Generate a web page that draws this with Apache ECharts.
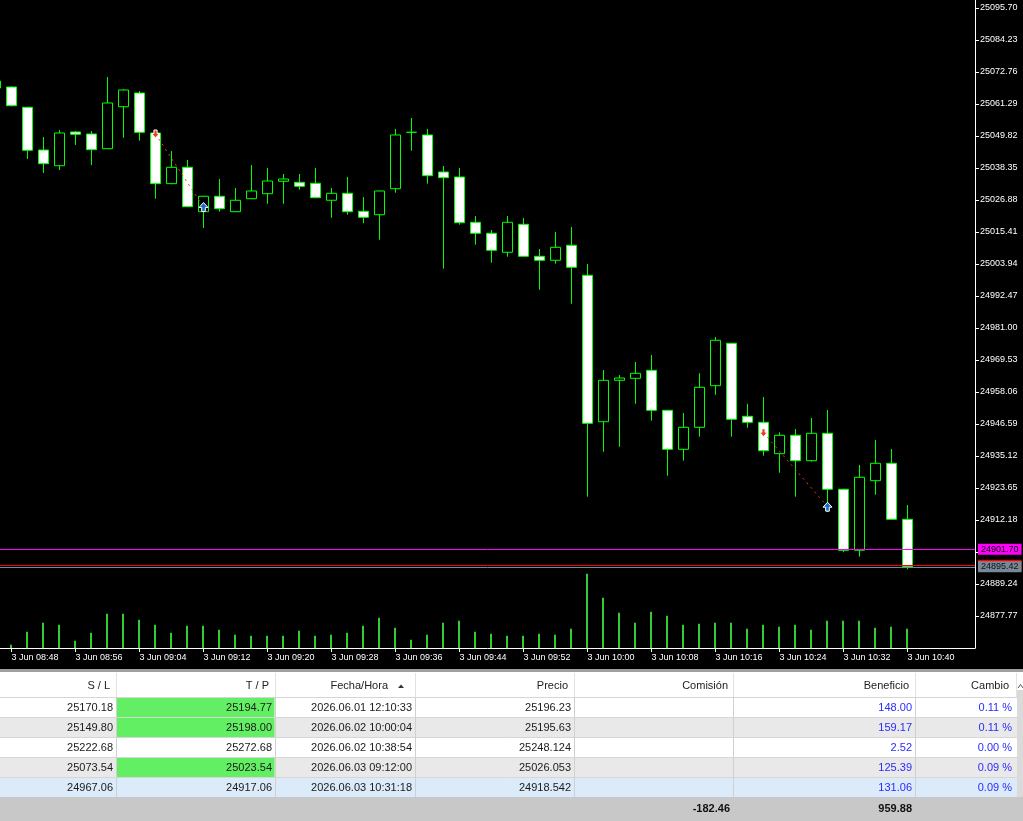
<!DOCTYPE html>
<html><head><meta charset="utf-8">
<script src="https://cdn.jsdelivr.net/npm/echarts@6/dist/echarts.min.js"></script>
<style>html,body{margin:0;padding:0;background:#000;}#c{width:1023px;height:821px;}</style>
</head><body><div id="c"></div><script>
// ---- chart data (M2 bars, index 0 = 3 Jun 08:48) ----
const bars   = [-1,0,1,2,3,4,5,6,7,8,9,10,11,12,13,14,15,16,17,18,19,20,21,22,23,24,25,26,27,28,29,30,31,32,33,34,35,36,37,38,39,40,41,42,43,44,45,46,47,48,49,50,51,52,53,54,55,56];
const opens  = [25069.5,25067.38,25060.11,25044.80,25039.17,25051.26,25050.54,25045.27,25060.33,25065.23,25050.90,25032.74,25038.60,25022.69,25028.22,25022.69,25027.35,25029.14,25033.58,25033.22,25032.86,25026.78,25029.28,25022.83,25021.61,25030.93,25051.14,25050.19,25036.92,25035.12,25018.89,25014.95,25008.14,25018.17,25006.70,25005.27,25010.64,24999.88,24947.41,24962.25,24962.97,24965.84,24951.50,24937.52,24945.40,24960.32,24975.52,24949.35,24947.20,24935.95,24942.54,24933.44,24943.26,24923.19,24901.33,24926.27,24932.51,24912.43];
const closes = [25067.0,25060.68,25044.70,25039.89,25050.90,25050.43,25044.91,25061.65,25066.31,25051.14,25032.74,25038.60,25024.48,25028.22,25023.76,25026.78,25030.11,25033.69,25034.41,25031.79,25027.70,25029.28,25022.69,25020.68,25030.11,25050.19,25051.14,25035.59,25034.88,25018.75,25014.95,25008.86,25018.89,25006.70,25005.27,25009.92,25002.75,24946.83,24962.25,24963.08,24964.76,24951.50,24937.52,24945.40,24959.74,24976.59,24948.27,24947.20,24937.03,24942.54,24933.44,24943.26,24923.19,24901.33,24927.49,24932.51,24912.43,24895.42];
const lows   = [25066.5,25060.40,25041.58,25036.56,25037.63,25046.59,25039.42,25045.10,25049.21,25048.14,25027.35,25032.50,25024.30,25016.85,25022.69,25022.50,25027.20,25025.55,25025.55,25030.58,25027.50,25020.53,25021.61,25018.54,25012.66,25029.50,25044.55,25032.74,25002.26,25018.03,25010.86,25004.40,25006.56,25006.50,24994.73,25004.05,24989.71,24920.54,24936.66,24938.45,24953.87,24947.77,24928.06,24933.44,24942.03,24957.09,24942.03,24945.26,24935.23,24929.13,24920.54,24933.08,24915.16,24900.61,24899.04,24921.25,24912.20,24894.51];
const highs  = [25070.0,25067.60,25060.30,25049.46,25051.97,25051.61,25051.61,25070.97,25066.67,25065.95,25051.61,25044.44,25041.22,25028.40,25034.41,25031.18,25039.42,25038.35,25036.20,25036.20,25038.35,25031.18,25035.12,25027.95,25030.30,25052.33,25056.27,25052.33,25039.07,25038.35,25021.15,25016.13,25021.15,25020.43,25009.32,25015.41,25017.20,25003.94,24965.94,24964.16,24968.81,24971.32,24951.70,24950.54,24964.76,24977.78,24975.70,24953.87,24956.27,24943.62,24944.80,24948.74,24951.62,24923.40,24931.90,24940.86,24937.62,24917.55];
const volumes = [70,13,65,101,93,29,61,137,137,113,93,61,89,89,73,53,49,49,49,69,49,53,61,89,121,81,33,53,101,109,65,57,49,49,57,53,77,297,201,141,101,145,129,93,97,101,101,77,93,85,93,73,109,109,109,81,85,77];

const priceTicks = [25095.70,25084.23,25072.76,25061.29,25049.82,25038.35,25026.88,25015.41,25003.94,24992.47,24981.00,24969.53,24958.06,24946.59,24935.12,24923.65,24912.18,24900.71,24889.24,24877.77];
const timeTickBars = [0,4,8,12,16,20,24,28,32,36,40,44,48,52,56];
const timeTicks = ['3 Jun 08:48','3 Jun 08:56','3 Jun 09:04','3 Jun 09:12','3 Jun 09:20','3 Jun 09:28','3 Jun 09:36','3 Jun 09:44','3 Jun 09:52','3 Jun 10:00','3 Jun 10:08','3 Jun 10:16','3 Jun 10:24','3 Jun 10:32','3 Jun 10:40'];

const bidPrice = 24895.42;
const askPrice = 24895.95;
const levelPrice = 24901.70;

// trades: [bar, price]
const tradeOpens  = [[9, 25050.54], [47, 24943.48]];
const tradeCloses = [[12, 25024.37], [51, 24916.95]];

// ---- table data ----
const tblHeaders = ['S / L','T / P','Fecha/Hora','Precio','Comisión','Beneficio','Cambio'];
const slVals   = ['25170.18','25149.80','25222.68','25073.54','24967.06'];
const tpVals   = ['25194.77','25198.00','25272.68','25023.54','24917.06'];
const tpHit    = [true,true,false,true,false];
const dateVals = ['2026.06.01 12:10:33','2026.06.02 10:00:04','2026.06.02 10:38:54','2026.06.03 09:12:00','2026.06.03 10:31:18'];
const priceVals = ['25196.23','25195.63','25248.124','25026.053','24918.542'];
const commVals = ['','','','',''];
const profitVals = ['148.00','159.17','2.52','125.39','131.06'];
const changeVals = ['0.11 %','0.11 %','0.00 %','0.09 %','0.09 %'];
const totalComm = '-182.46';
const totalProfit = '959.88';

// ---- build ----
const FONT = 'Liberation Sans';
const candleData = bars.map((b,k)=>[b, opens[k], closes[k], lows[k], highs[k]]);
const volData = bars.map((b,k)=>[b, volumes[k]]);
const X_MIN = -0.71875, X_MAX = 60.21875;       // price pane (half-pixel aligned candle centres)
const XV_MIN = -0.6875, XV_MAX = 60.25;          // volume pane

const downArrow = 'path://M3,0H7V4H10L5,9L0,4H3Z';
const upArrow = 'path://M5,0L10,5H7V9H3V5H0Z';

const tradeLines = tradeOpens.map((o,k)=>({
  type:'line', xAxisIndex:0, yAxisIndex:0, data:[o, tradeCloses[k]], symbol:'none', silent:true, z:4,
  lineStyle:{color:'#e8401c', width:1, type:[2,4]}
}));

function mlLabel(bg, fg){
  return {show:true, position:'end', distance:3, backgroundColor:bg, color:fg, fontFamily:FONT, fontSize:9,
          lineHeight:11, padding:[0,3], formatter:(p)=>p.value.toFixed(2)};
}

// table graphics
const els = [];
const colBorders = [116,275,415,574,733,915,1016];
const rowBg = ['#ffffff','#e9e9e9','#ffffff','#e9e9e9','#dcebfa'];
const txt = (t,x,y,opt)=>Object.assign({type:'text', silent:true, z:10, style:Object.assign({
  text:t, x:x, y:y, align:'right', textAlign:'right', verticalAlign:'middle', textVerticalAlign:'middle',
  fill:'#1a1a1a', font:'11px "'+FONT+'"'}, opt||{})});
els.push({type:'rect', silent:true, z:9, shape:{x:0,y:669,width:1023,height:152}, style:{fill:'#ffffff'}});
els.push({type:'rect', silent:true, z:9, shape:{x:0,y:669,width:1023,height:3}, style:{fill:'#9f9f9f'}});
for (let r=0;r<5;r++){
  const y0 = 697+20*r;
  els.push({type:'rect', silent:true, z:9, shape:{x:0,y:y0,width:1017,height:20}, style:{fill:rowBg[r]}});
  if (tpHit[r]) els.push({type:'rect', silent:true, z:9, shape:{x:117,y:y0+0.5,width:157.5,height:19.5}, style:{fill:'#63ef63'}});
  els.push({type:'line', silent:true, z:9, shape:{x1:0,y1:y0+0.5,x2:1017,y2:y0+0.5}, style:{stroke:'#d6d6d6', lineWidth:1}});
}
els.push({type:'rect', silent:true, z:9, shape:{x:0,y:797,width:1023,height:24}, style:{fill:'#c8c8c8'}});
colBorders.forEach((cx,k)=>{
  els.push({type:'line', silent:true, z:9, shape:{x1:cx+0.5,y1:673,x2:cx+0.5,y2:697}, style:{stroke:'#e2e2e2', lineWidth:1}});
  if (k<6) els.push({type:'line', silent:true, z:9, shape:{x1:cx+0.5,y1:697,x2:cx+0.5,y2:797}, style:{stroke:'#d0d0d0', lineWidth:1}});
});
// scrollbar
els.push({type:'rect', silent:true, z:9, shape:{x:1017,y:690,width:6,height:107}, style:{fill:'#dadada'}});
els.push({type:'polyline', silent:true, z:10, shape:{points:[[1018,688],[1020.5,684.5],[1023,688]]}, style:{stroke:'#555', lineWidth:1, fill:null}});
// headers
const hdrRight = [110,269,388,568,728,909,1009];
tblHeaders.forEach((h,k)=>els.push(txt(h, hdrRight[k], 686, {fill:'#222'})));
els.push({type:'polygon', silent:true, z:10, shape:{points:[[398,688],[404,688],[401,684.5]]}, style:{fill:'#333'}});
// cells
const cellRight = [113,272,412,571,730,912,1012];
for (let r=0;r<5;r++){
  const yc = 707.5+20*r;
  els.push(txt(slVals[r], cellRight[0], yc));
  els.push(txt(tpVals[r], cellRight[1], yc));
  els.push(txt(dateVals[r], cellRight[2], yc));
  els.push(txt(priceVals[r], cellRight[3], yc));
  els.push(txt(commVals[r], cellRight[4], yc));
  els.push(txt(profitVals[r], cellRight[5], yc, {fill:'#2a2aff'}));
  els.push(txt(changeVals[r], cellRight[6], yc, {fill:'#2a2aff'}));
}
els.push(txt(totalComm, 730, 809, {font:'bold 11px "'+FONT+'"', fill:'#111'}));
els.push(txt(totalProfit, 912, 809, {font:'bold 11px "'+FONT+'"', fill:'#111'}));

const chart = echarts.init(document.getElementById('c'), null, {renderer:'canvas', width:1023, height:821});
chart.setOption({
  backgroundColor:'#000',
  animation:false,
  grid:[
    {left:0, right:48, top:0, height:648},
    {left:0, right:48, top:548, height:100}
  ],
  xAxis:[
    {type:'value', gridIndex:0, min:X_MIN, max:X_MAX, splitLine:{show:false},
     axisLine:{show:true, onZero:false, lineStyle:{color:'#ffffff', width:1}},
     axisTick:{show:true, length:4, customValues:timeTickBars, lineStyle:{color:'#ffffff'}},
     axisLabel:{show:true, customValues:timeTickBars, align:'left', margin:5, color:'#ffffff', fontFamily:FONT, fontSize:9,
       formatter:(v)=>timeTicks[timeTickBars.indexOf(v)]}},
    {type:'value', gridIndex:1, min:XV_MIN, max:XV_MAX, show:false}
  ],
  yAxis:[
    {type:'value', gridIndex:0, position:'right', min:24866.300, max:25098.568, splitLine:{show:false},
     axisLine:{show:true, onZero:false, lineStyle:{color:'#ffffff', width:1}},
     axisTick:{show:true, length:4, customValues:priceTicks, lineStyle:{color:'#ffffff'}},
     axisLabel:{show:true, customValues:priceTicks, margin:5, color:'#ffffff', fontFamily:FONT, fontSize:9,
       formatter:(v)=>v.toFixed(2)}},
    {type:'value', gridIndex:1, min:0, max:400, show:false}
  ],
  series:[
    {type:'bar', xAxisIndex:1, yAxisIndex:1, data:volData, barWidth:2, silent:true, z:1,
     itemStyle:{color:'#32cd32'}},
    {type:'candlestick', xAxisIndex:0, yAxisIndex:0, data:candleData, encode:{x:0, y:[1,2,3,4]},
     barWidth:10, silent:true, z:3, clip:true,
     itemStyle:{color:'#000000', color0:'#ffffff', borderColor:'#00ff00', borderColor0:'#00ff00', borderColorDoji:'#00ff00', borderWidth:1},
     markLine:{silent:true, symbol:['none','none'], animation:false, z:6,
       data:[
         {yAxis:askPrice, lineStyle:{color:'#ff0000', type:'solid', width:1}, label:mlLabel('#ff0000','#000')},
         {yAxis:levelPrice, lineStyle:{color:'#ff00ff', type:'solid', width:1}, label:mlLabel('#ff00ff','#000')},
         {yAxis:bidPrice, lineStyle:{color:'#778899', type:'solid', width:1}, label:mlLabel('#778899','#111')}
       ]}},
    ...tradeLines,
    {type:'scatter', xAxisIndex:0, yAxisIndex:0, data:tradeOpens, symbol:downArrow, symbolSize:[8,8], silent:true, z:5,
     itemStyle:{color:'#e8401c', borderColor:'#ffffff', borderWidth:1, opacity:1}},
    {type:'scatter', xAxisIndex:0, yAxisIndex:0, data:tradeCloses, symbol:upArrow, symbolSize:[9,9], silent:true, z:5,
     itemStyle:{color:'#1a6fc4', borderColor:'#ffffff', borderWidth:1, opacity:1}}
  ],
  graphic:{elements:els}
});
</script></body></html>
